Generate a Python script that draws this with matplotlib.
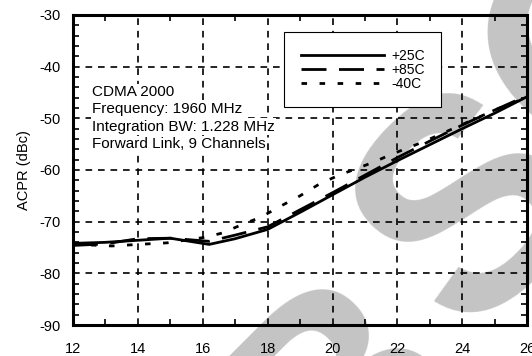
import matplotlib
matplotlib.use("Agg")
import matplotlib.pyplot as plt
from matplotlib.ticker import MultipleLocator

plt.rcParams["font.family"] = ["Liberation Sans", "DejaVu Sans"]
plt.rcParams["axes.unicode_minus"] = False

# ACPR vs output power, three temperatures
x_25 = [12, 13, 14, 15, 16.2, 17, 18, 19, 20, 21, 22, 23, 24, 25, 26]
y_25 = [-74.2, -74.0, -73.6, -73.2, -74.4, -73.3, -71.5, -68.2, -64.8,
        -61.4, -58.2, -55.1, -52.0, -49.0, -45.8]

x_85 = [12, 13, 14, 15, 16.2, 17, 18, 19, 20, 21, 22, 23, 24, 25, 26]
y_85 = [-74.6, -74.3, -73.3, -73.2, -73.8, -72.6, -71.0, -67.7, -64.4,
        -61.0, -57.6, -54.4, -51.3, -48.4, -45.6]

x_40 = [12, 12.5, 13.2, 14.3, 14.9, 16.1, 16.6, 17.2, 17.8, 18.4, 19.0,
        19.6, 20.2, 20.8, 21.3, 21.8, 22.5, 23, 24, 25, 26]
y_40 = [-74.4, -74.5, -74.7, -74.3, -74.1, -73.0, -72.2, -70.6, -69.1,
        -67.0, -65.0, -62.7, -61.0, -59.6, -58.4, -57.0, -55.3, -54.0,
        -51.2, -48.4, -45.9]

labels = ["+25C", "+85C", "-40C"]
info_lines = ["CDMA 2000", "Frequency: 1960 MHz",
              "Integration BW: 1.228 MHz", "Forward Link, 9 Channels"]

fig = plt.figure(figsize=(5.32, 3.56), dpi=100)
ax = fig.add_axes([0.137, 0.087, 0.854, 0.871])
ax.set_facecolor("none")

# watermark letters behind the chart
for ch, (wx, wy) in zip("BSO", [(0.65, -0.13), (0.90, 0.40), (1.15, 0.88)]):
    fig.text(wx, wy, ch, fontsize=215, fontweight="bold", color="#c4c4c4",
             rotation=45, ha="center", va="center", zorder=-1)

ax.plot(x_25, y_25, color="black", lw=2.0, ls="-", label=labels[0], zorder=3)
ax.plot(x_85, y_85, color="black", lw=2.0, ls=(0, (9, 4.5)), label=labels[1], zorder=3)
ax.plot(x_40, y_40, color="black", lw=2.0, ls=(0, (2.0, 4.5)), label=labels[2], zorder=3)

ax.set_xlim(12, 26)
ax.set_ylim(-90, -30)
ax.xaxis.set_major_locator(MultipleLocator(2))
ax.xaxis.set_minor_locator(MultipleLocator(1))
ax.yaxis.set_major_locator(MultipleLocator(10))
ax.yaxis.set_minor_locator(MultipleLocator(2))
ax.tick_params(which="both", direction="in", top=True, right=True, width=1.2)
ax.tick_params(which="major", length=0, labelsize=10.5)
ax.tick_params(axis="x", which="major", pad=12)
ax.tick_params(axis="y", which="major", pad=9)
ax.tick_params(which="minor", length=4)
ax.grid(True, which="major", color="black", ls=(0, (4, 3.5)), lw=1.2)
for s in ax.spines.values():
    s.set_linewidth(2.2)

ax.set_ylabel("ACPR (dBc)", fontsize=10.5, labelpad=6)

for i, line in enumerate(info_lines):
    ax.text(0.042, 0.751 - i * 0.0558, line, transform=ax.transAxes,
            fontsize=11, va="center", ha="left", zorder=4,
            bbox=dict(facecolor="white", edgecolor="none", pad=1.0))

leg = ax.legend(loc="upper left", bbox_to_anchor=(0.465, 0.945),
                borderaxespad=0, fontsize=10, handlelength=6.0,
                labelspacing=0.0, handletextpad=0.5, borderpad=1.2,
                fancybox=False, framealpha=1, edgecolor="black")
leg.get_frame().set_linewidth(0.8)

fig.savefig("out.png", dpi=100)
